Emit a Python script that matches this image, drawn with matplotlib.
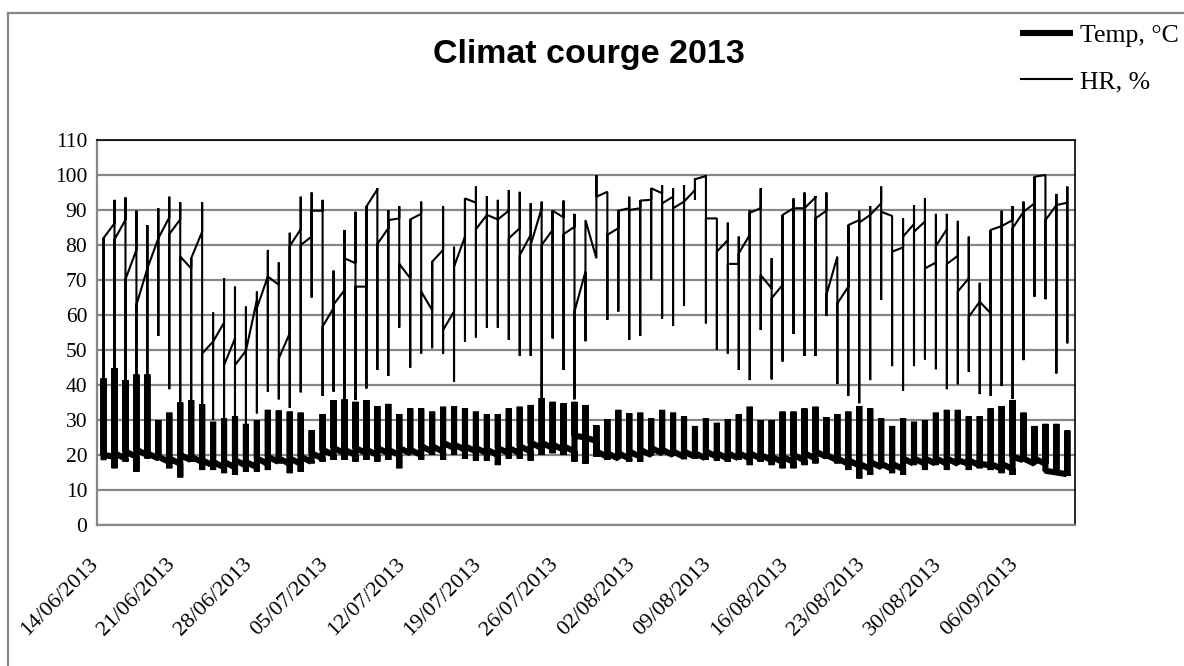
import numpy as np
import pandas as pd
import matplotlib
matplotlib.use('Agg')
import matplotlib.pyplot as plt
from matplotlib.lines import Line2D
from matplotlib.transforms import ScaledTranslation

# readings from the courge greenhouse, 14/06/2013 -> 10/09/2013
# Excel draws every reading of a day on the same x, so each day is
# first reading -> extreme -> other extreme -> last reading
dates = pd.date_range('2013-06-14', periods=89, freq='D')

hr_first = [82, 86.2, 87.2, 78.6, 73.3, 81.9, 87.9, 87.3, 73.3, 83.8,
            52.4, 57.8, 53.3, 49.8, 64.3, 71, 68.6, 54.8, 84.5, 82.4,
            89.8, 62, 67.1, 74.8, 68.1, 95.9, 84.8, 87.6, 70.5, 88.9,
            61.4, 78.6, 61, 82.4, 92.1, 88.6, 87.3, 89.8, 84.8, 82.9,
            90.5, 84.3, 87.9, 85.2, 72.4, 76.2, 95.2, 84.8, 90.5, 90.5,
            92.9, 94.8, 93.8, 92.4, 95.7, 99.7, 87.6, 81.4, 74.6, 82.9,
            90.5, 67.6, 68.6, 90.5, 90.5, 93.6, 89.8, 76.7, 68.1, 87.1,
            88.6, 91.9, 88.3, 79.3, 86, 86.7, 75, 84.5, 76.9, 70.5,
            63.8, 60.5, 85.4, 87.1, 89.5, 91.9, 100, 91.4, 92.1]
hr_max = [82, 92.9, 93.6, 89.8, 85.7, 90.5, 93.8, 92.2, 76.2, 92.2,
          60.7, 70.5, 68.1, 62.4, 66.7, 78.6, 75, 83.5, 93.8, 95,
          92.9, 72.7, 84.3, 89.5, 91, 96.2, 90, 91.1, 87.3, 92.4,
          75.2, 91, 79.5, 93.3, 96.7, 94, 92.9, 95.7, 95.2, 91.9,
          92.4, 89.8, 92.7, 88.9, 87, 100, 95.2, 89.8, 93.8, 92.7,
          96.2, 97.1, 96.2, 97.1, 99, 100, 87.6, 86.4, 82.4, 90,
          96.2, 76.2, 88.6, 93.3, 95, 94, 95, 76.7, 85.7, 89.8,
          91.1, 96.7, 88.3, 87.6, 91.4, 93.3, 88.9, 88.9, 86.9, 82.4,
          69.2, 84.3, 89.8, 91.1, 92.4, 99.5, 100, 94.6, 96.7]
hr_min = [42, 44, 41, 43, 43, 54, 38.8, 35, 35.7, 34.5,
          30, 30.5, 31, 29, 31.9, 38.1, 35.9, 33.5, 37.9, 65,
          36.9, 38.1, 36, 35.7, 39, 44.3, 42.6, 56.4, 45, 49,
          50.5, 49, 41, 52.4, 53.6, 56.4, 56.4, 52.9, 48.3, 48.3,
          36.2, 53.3, 44.3, 35.9, 52.5, 76.2, 58.6, 61, 52.9, 54,
          70, 59, 56.9, 62.6, 93, 57.6, 50, 49, 44.3, 41.4,
          55.7, 41.6, 46.7, 54.6, 48.3, 48.3, 59.7, 40.3, 36.9, 34.8,
          41.4, 64.3, 45.4, 38.4, 45.4, 47.3, 44.5, 38.8, 40.2, 43.8,
          37.4, 36.9, 39.7, 36, 47.1, 65.2, 64.5, 43.3, 51.9]
hr_last = [82, 81.6, 70.2, 62.9, 73.3, 81.9, 83.1, 76.7, 76.2, 49,
           52.4, 45.7, 45.7, 49.8, 62, 71, 47.6, 79.7, 80, 89.8,
           56.7, 63, 76.2, 68.1, 91, 80.3, 87.1, 74.6, 87.3, 66.7,
           75.2, 55.7, 73.8, 93.3, 84.5, 88.6, 87.3, 81.9, 77.1, 80,
           80, 89.8, 83.1, 61, 87.1, 93.8, 82.9, 89.8, 90, 92.7,
           96.2, 91.9, 90.5, 92.4, 98.8, 87.6, 78.1, 74.6, 77.6, 89.2,
           71.4, 64.8, 88.6, 90.5, 90.5, 87.6, 65.7, 63.3, 85.7, 86.4,
           88.6, 89.5, 78.1, 82.4, 83.8, 73.3, 79.7, 74.6, 66.7, 59.5,
           63.8, 84.3, 85.4, 84.8, 89.5, 99.5, 87.1, 91.4, 92.1]

t_first = [18.5, 19.5, 19, 19.5, 20, 19, 18, 17.5, 18.5, 18,
           17, 16.5, 16.5, 17, 16.5, 17.5, 18, 17.5, 17.5, 18,
           19, 20, 20.5, 20, 20.5, 20, 20.5, 20, 20.5, 20,
           21, 21, 22, 21.5, 21, 20.5, 20, 20.5, 20.5, 21,
           22, 22, 21.5, 21, 25, 24, 19.5, 19, 19, 19.5,
           20, 20.5, 20, 19.5, 19.5, 19, 19.5, 19, 19, 19,
           19, 18.5, 18, 18, 18.5, 19, 19.5, 18.5, 17.5, 17,
           16, 16.5, 16, 16, 17.5, 17.5, 17.5, 17.5, 17.5, 17.5,
           17, 17, 16, 16, 18.5, 17.5, 17.5, 15, 14.5]
t_min = [18.5, 16.2, 18.1, 15.2, 19, 19, 16.2, 13.6, 18.1, 15.7,
         15.7, 14.8, 14.3, 15.2, 15.2, 15.7, 17.6, 14.8, 15.2, 17.6,
         18.1, 18.6, 18.6, 18.1, 18.6, 18.1, 18.6, 16.2, 20.5, 18.6,
         20, 18.6, 20, 19, 18.4, 18.4, 17.1, 19, 19, 18.4,
         20, 20.5, 20, 18.1, 17.5, 19.5, 18.6, 19, 18.1, 18.1,
         20, 20.5, 20, 18.8, 19, 18.6, 18.4, 18.1, 18.6, 17.1,
         18.1, 17.1, 16.2, 16.2, 17.1, 17.6, 19, 17.6, 15.7, 13.3,
         14.3, 17.1, 14.8, 14.3, 17.1, 15.7, 17.1, 15.7, 17.6, 15.7,
         16.2, 15.7, 14.8, 14.3, 18.1, 18.6, 18.6, 14.8, 14]
t_max = [41.9, 44.8, 41.4, 43, 43, 30, 32.1, 35, 35.7, 34.5,
         29.5, 30.5, 31.1, 28.9, 30, 32.9, 32.7, 32.4, 32.1, 27.1,
         31.7, 35.7, 35.9, 35.2, 35.7, 34, 34.6, 31.7, 33.3, 33.3,
         32.4, 33.8, 34, 33.3, 32.4, 31.7, 31.7, 33.3, 33.8, 34.3,
         36.2, 35.2, 34.8, 35.2, 34.3, 28.5, 30.2, 32.9, 31.9, 32.1,
         30.5, 32.9, 32.1, 31, 28.3, 30.5, 29.2, 30.2, 31.7, 33.8,
         30, 30, 32.4, 32.4, 33.3, 33.8, 30.8, 31.7, 32.4, 34,
         33.3, 30.5, 28.3, 30.5, 29.5, 30, 32.1, 32.9, 32.9, 31,
         31.1, 33.3, 34, 35.7, 32.1, 28.3, 28.9, 28.9, 27]
t_last = [20, 20.5, 21, 21.5, 20.5, 19.5, 19, 20, 19.5, 18.5,
          18, 18, 18.5, 18, 19, 19.5, 19, 19, 19.5, 20.5,
          21.5, 22, 21.5, 22, 21.5, 22, 21.5, 22, 21.5, 22.5,
          22.5, 23.5, 23, 22.5, 22, 21.5, 22, 22, 22.5, 23.5,
          23.5, 23, 22.5, 25.5, 25, 21, 20.5, 20.5, 21, 21.5,
          22, 21.5, 21, 21, 20.5, 21, 20.5, 20.5, 20.5, 20.5,
          20, 19.5, 19.5, 20, 20.5, 21, 20, 19, 18.5, 17.5,
          18, 17.5, 17.5, 19, 19, 19, 19, 19, 18.5, 18.5,
          17.5, 17.5, 17.5, 19.5, 19, 19, 15.5, 15, 14]

tick_days = list(range(0, len(dates), 7))
tick_labels = [dates[i].strftime('%d/%m/%Y') for i in tick_days]
y_ticks = list(range(0, 111, 10))


def day_series(a, b, c, d):
    # four readings per day, all on the day's x
    x = np.repeat(np.arange(len(a)), 4)
    y = np.column_stack([a, b, c, d]).ravel()
    return x, y


xt, yt = day_series(t_first, t_min, t_max, t_last)
xh, yh = day_series(hr_first, hr_max, hr_min, hr_last)

W, H = 1184, 666
fig = plt.figure(figsize=(W / 100, H / 100), dpi=100)
ax = fig.add_axes([97 / W, 1 - 525 / H, 978 / W, 385 / H])

grid_grey = '#878787'
ax.plot(xt, yt, color='black', lw=4.4, solid_joinstyle='bevel',
        solid_capstyle='butt', zorder=3)
ax.plot(xh, yh, color='black', lw=1.5, solid_joinstyle='bevel',
        solid_capstyle='butt', zorder=4)

ax.set_ylim(0, 110)
ax.set_xlim(-0.6, 88.7)
ax.set_yticks(y_ticks)
ax.yaxis.grid(True, color=grid_grey, lw=1.6)
ax.set_axisbelow(True)

serif = 'Liberation Serif'
ax.set_yticklabels([str(v) for v in y_ticks], family=serif, fontsize=15.5)
ax.tick_params(axis='y', length=0, pad=7)

ax.set_xticks(tick_days)
ax.set_xticklabels(tick_labels, family=serif, fontsize=16, rotation=45,
                   ha='right', va='center', rotation_mode='anchor')
ax.tick_params(axis='x', length=0, pad=26)
shift = ScaledTranslation(-8 / 100, 0, fig.dpi_scale_trans)
for lab in ax.get_xticklabels():
    lab.set_transform(lab.get_transform() + shift)

for s in ['left', 'bottom']:
    ax.spines[s].set_color(grid_grey)
    ax.spines[s].set_linewidth(1.6)
for s in ['top', 'right']:
    ax.spines[s].set_color('black')
    ax.spines[s].set_linewidth(1.2)

fig.text(589 / W, 1 - 55 / H, 'Climat courge 2013', ha='center', va='center',
         fontsize=24.5, fontweight='bold', family='Liberation Sans')

handles = [Line2D([], [], color='black', lw=4.4, solid_capstyle='butt'),
           Line2D([], [], color='black', lw=1.5, solid_capstyle='butt')]
fig.legend(handles, ['Temp, °C', 'HR, %'], loc='upper left',
           bbox_to_anchor=(1020 / W, 1 - 24 / H), frameon=False,
           prop={'family': serif, 'size': 18.5}, handlelength=2.06,
           handletextpad=0.27, labelspacing=0.9, borderpad=0, borderaxespad=0)

# chart area border (only left and top fall inside the picture)
fig.add_artist(Line2D([8 / W, 8 / W], [0, 1 - 13 / H], color=grid_grey,
                      lw=1.6, transform=fig.transFigure))
fig.add_artist(Line2D([8 / W, 1], [1 - 13 / H, 1 - 13 / H], color=grid_grey,
                      lw=1.6, transform=fig.transFigure))

fig.savefig('out.png', dpi=100)
